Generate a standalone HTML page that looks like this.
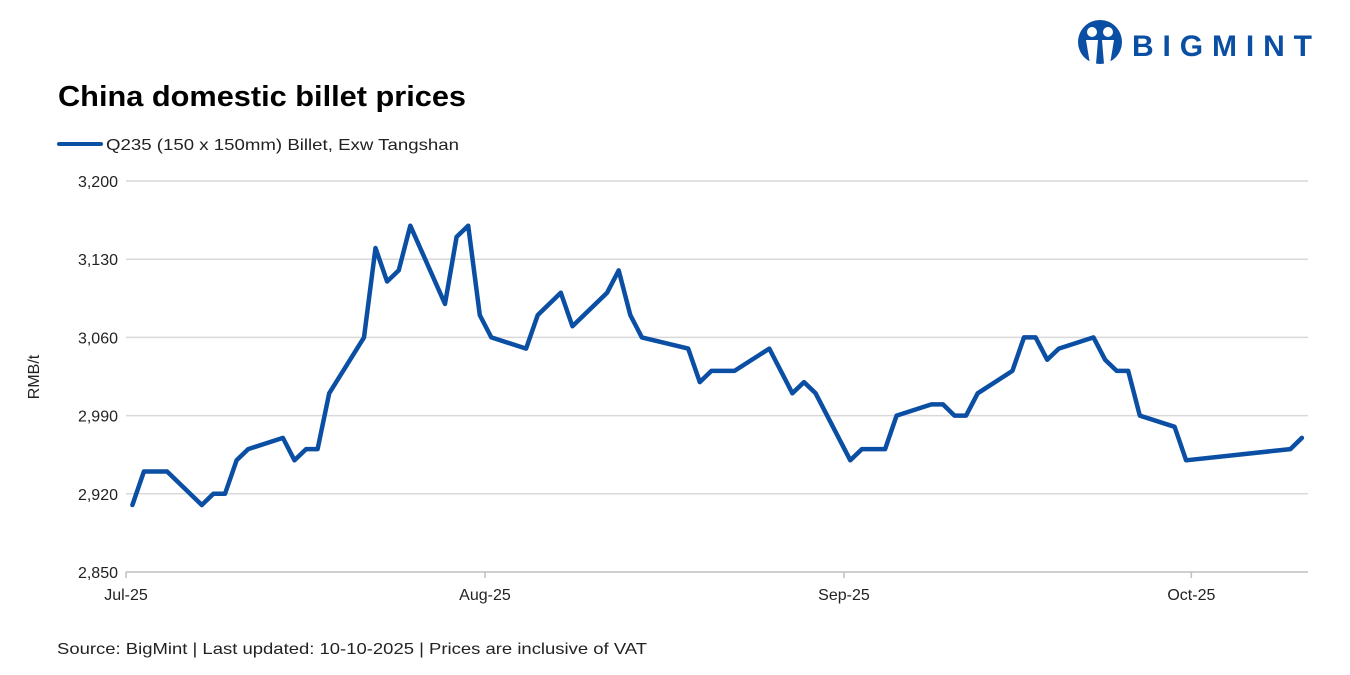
<!DOCTYPE html>
<html><head><meta charset="utf-8"><style>
body{margin:0;background:#fff;font-family:"Liberation Sans",sans-serif;}
svg{display:block}
</style></head><body>
<svg width="1350" height="675" viewBox="0 0 1350 675" font-family="Liberation Sans, sans-serif">
<g>
<circle cx="1100" cy="42" r="22" fill="#0a4fa3"/>
<circle cx="1092" cy="32" r="5" fill="#fff"/><circle cx="1108" cy="32" r="5" fill="#fff"/>
<path d="M1086 40 L1098 40 L1096 64 L1090 64 Z M1102 40 L1114 40 L1110 64 L1104 64 Z" fill="#fff"/>
<text x="1132" y="56" font-size="30" font-weight="bold" fill="#0a4fa3" textLength="180" lengthAdjust="spacing">BIGMINT</text>
</g>
<text x="58" y="106" font-size="29" font-weight="bold" fill="#000" textLength="408" lengthAdjust="spacingAndGlyphs">China domestic billet prices</text>
<g>
<line x1="59" y1="144" x2="101" y2="144" stroke="#0a4fa3" stroke-width="4" stroke-linecap="round"/>
<text x="106" y="150" font-size="16" fill="#222" textLength="353" lengthAdjust="spacingAndGlyphs">Q235 (150 x 150mm) Billet, Exw Tangshan</text>
</g>
<text transform="translate(39,377) rotate(-90)" text-anchor="middle" font-size="16" fill="#222">RMB/t</text>
<g id="grid"></g><g id="xt"></g>
<path id="series" fill="none" stroke="#0a4fa3" stroke-width="4.5" stroke-linejoin="round" stroke-linecap="round"/>
<text x="57" y="654" font-size="16" fill="#222" textLength="590" lengthAdjust="spacingAndGlyphs">Source: BigMint | Last updated: 10-10-2025 | Prices are inclusive of VAT</text>
</svg>
<script>
const dayOffsets=[0,1,3,6,7,8,9,10,13,14,15,16,17,20,21,22,23,24,27,28,29,30,31,34,35,37,38,41,42,43,44,48,49,50,52,55,57,58,59,62,63,65,66,69,70,71,72,73,76,77,78,79,80,83,84,85,86,87,90,91,100,101];
const prices=[2910,2940,2940,2910,2920,2920,2950,2960,2970,2950,2960,2960,3010,3060,3140,3110,3120,3160,3090,3150,3160,3080,3060,3050,3080,3100,3070,3100,3120,3080,3060,3050,3020,3030,3030,3050,3010,3020,3010,2950,2960,2960,2990,3000,3000,2990,2990,3010,3030,3060,3060,3040,3050,3060,3040,3030,3030,2990,2980,2950,2960,2970];
const yTicks=[2850,2920,2990,3060,3130,3200];
const xTickLabels=["Jul-25","Aug-25","Sep-25","Oct-25"];
const xTickDays=[0,31,62,92];
const NS="http://www.w3.org/2000/svg";
const X0=126,X1=1308,PX=11.58,Y0=572,Y1=181;
const xs=d=>X0+d*PX;
const xp=d=>X0+(d+0.55)*PX;
const ys=v=>Y0-(v-2850)/(3200-2850)*(Y0-Y1);
function mk(t,a,p){const e=document.createElementNS(NS,t);for(const k in a)e.setAttribute(k,a[k]);p.appendChild(e);return e;}
const g=document.getElementById('grid');
yTicks.forEach((v,i)=>{
 const l=mk('line',{x1:X0,x2:X1,y1:ys(v),y2:ys(v),stroke:i==0?'#bfbfbf':'#d9d9d9','stroke-width':1.5},g);
 
 
 const t=mk('text',{x:118,y:ys(v)+6,'text-anchor':'end','font-size':16,fill:'#222'},g);
 t.textContent=v.toLocaleString('en-US');
 
 
});
const xt=document.getElementById('xt');
xTickLabels.forEach((s,i)=>{
 const x=xs(xTickDays[i]);
 const l=mk('line',{x1:x,x2:x,y1:Y0,y2:Y0+6,stroke:'#bfbfbf','stroke-width':1.5},xt);
 
 
 const t=mk('text',{x:x,y:600,'text-anchor':'middle','font-size':16,fill:'#222'},xt);
 t.textContent=s;
 
 
});
document.getElementById('series').setAttribute('d',dayOffsets.map((d,i)=>(i?'L':'M')+xp(d).toFixed(1)+' '+ys(prices[i]).toFixed(1)).join(' '));
</script>
</body></html>
